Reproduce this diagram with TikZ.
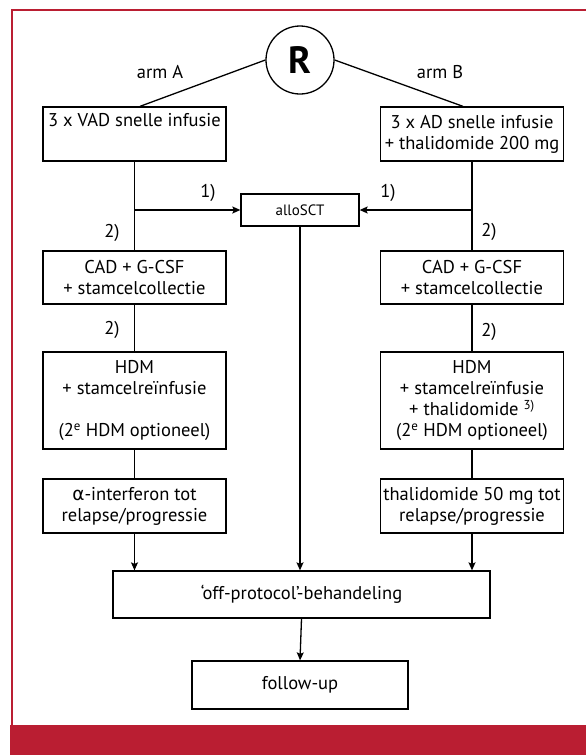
\documentclass[tikz,border=0pt]{standalone}
\usepackage{fontspec}
\setmainfont{PT Sans}
\newfontfamily\grk{DejaVu Sans}
\usetikzlibrary{arrows.meta}
\definecolor{framered}{RGB}{186,30,50}
\begin{document}
\begin{tikzpicture}[x=1pt,y=-1pt,
  box/.style={draw, line width=1.3pt, minimum width=183pt, align=center, font=\fontsize{18.5}{21}\selectfont, inner sep=0pt},
  lbl/.style={font=\fontsize{18.5}{18.5}\selectfont, inner sep=0pt},
  conn/.style={line width=1.3pt},
  arr/.style={line width=1.3pt, -{Stealth[length=8pt,width=7pt,inset=1.5pt]}}
]
\useasboundingbox (0,0) rectangle (586,755);
% frame
\fill[framered] (10,725) rectangle (586,755);
\draw[framered, line width=2.5pt] (586,10) -- (12,10) -- (12,725);

% nodes
\node[circle, draw, line width=1.3pt, minimum size=68pt, inner sep=0pt, font=\fontsize{38}{38}\selectfont\bfseries] (R) at (300,60) {R};
\node[lbl] (armA) at (160,72) {arm A};
\node[lbl] (armB) at (440,72) {arm B};

\node[box, minimum height=54pt] (a1) at (134.5,134) {3 x VAD snelle infusie\\\strut};
\node[box, minimum height=54pt] (b1) at (472,134) {3 x AD snelle infusie\\+ thalidomide 200 mg};

\node[draw, line width=1.3pt, minimum width=118pt, minimum height=32pt, font=\fontsize{15}{15}\selectfont, inner sep=0pt] (allo) at (300,210) {alloSCT};

\node[box, minimum height=53pt] (a2) at (134.5,277.5) {CAD + G-CSF\\+ stamcelcollectie};
\node[box, minimum height=53pt] (b2) at (472,277.5) {CAD + G-CSF\\+ stamcelcollectie};

\node[box, minimum height=97pt] (a3) at (134.5,400.5) {HDM\\+ stamcelreïnfusie\\\strut\\(2\textsuperscript{e} HDM optioneel)};
\node[box, minimum height=97pt] (b3) at (472,400.5) {HDM\\+ stamcelreïnfusie\\+ thalidomide \textsuperscript{3)}\\(2\textsuperscript{e} HDM optioneel)};

\node[box, minimum height=54pt] (a4) at (134.5,506) {{\grk α}-interferon tot\\relapse/progressie};
\node[box, minimum height=54pt] (b4) at (472,506) {thalidomide 50 mg tot\\relapse/progressie};

\node[box, minimum width=377pt, minimum height=47pt] (off) at (301.5,594.5) {‘off-protocol’-behandeling};
\node[box, minimum width=216pt, minimum height=48pt] (fu) at (300,685) {follow-up};

% labels
\node[lbl] (l1a) at (208,193) {1)};
\node[lbl] (l1b) at (388,193) {1)};
\node[lbl] (l2a) at (112,233) {2)};
\node[lbl] (l2b) at (489,232) {2)};
\node[lbl] (l2c) at (112,330) {2)};
\node[lbl] (l2d) at (489,332) {2)};

% connectors
\draw[conn] (R.west) -- ([xshift=5.5pt]a1.north);
\draw[conn] (R.east) -- ([xshift=-9pt]b1.north);
\draw[conn] (a1.south) -- (a2.north);
\draw[conn] (b1.south) -- (b2.north);
\draw[arr] (a1.south |- allo.west) -- (allo.west);
\draw[arr] (b1.south |- allo.east) -- (allo.east);
\draw[conn] (a2.south) -- (a3.north);
\draw[conn] (b2.south) -- (b3.north);
\draw[conn] (a3.south) -- (a4.north);
\draw[conn] (b3.south) -- (b4.north);
\draw[arr] (a4.south) -- (a4.south |- off.north);
\draw[arr] (b4.south) -- (b4.south |- off.north);
\draw[arr] (allo.south) -- (allo.south |- off.north);
\draw[arr] (off.south) -- (fu.north);
\end{tikzpicture}
\end{document}
